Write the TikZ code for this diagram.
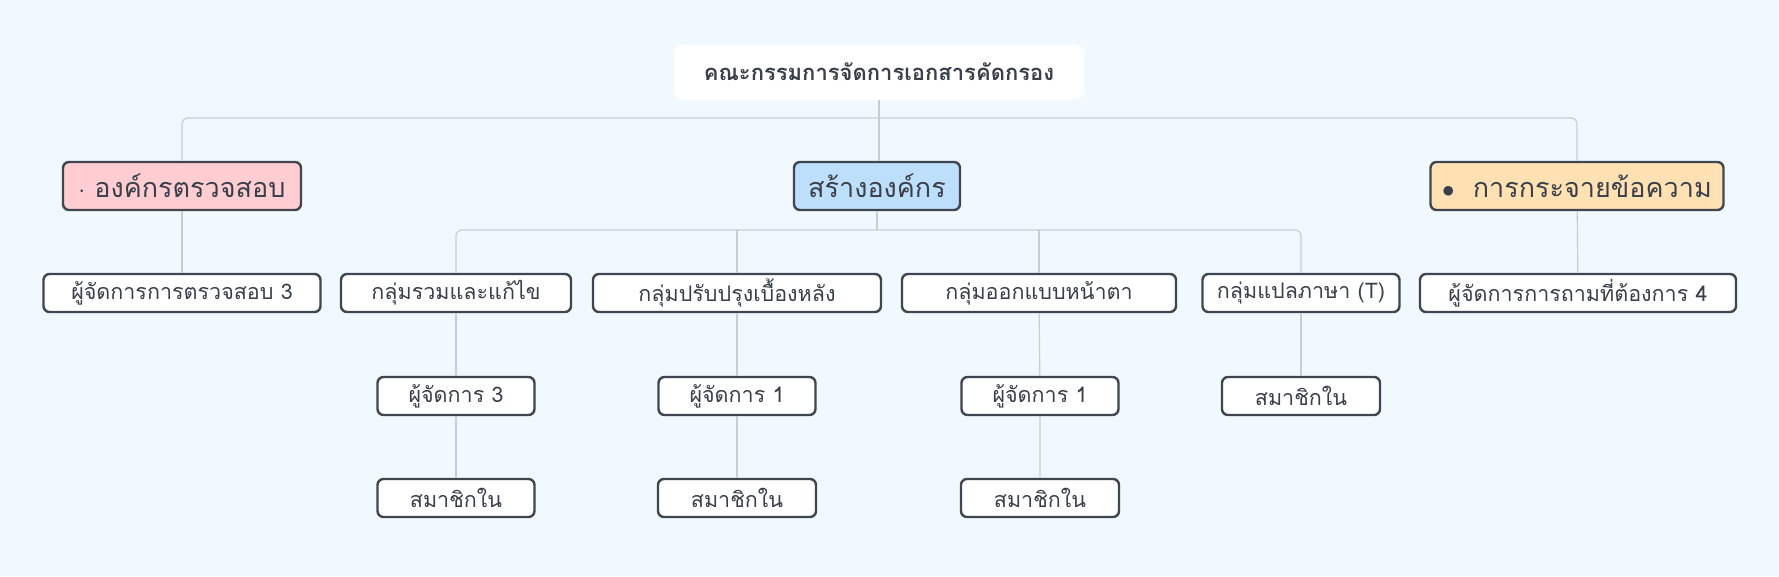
\documentclass[tikz,border=0pt]{standalone}
\usepackage{fontspec}
\setmainfont[Script=Thai]{Loma}
\usetikzlibrary{positioning}
\definecolor{bgblue}{HTML}{F1F8FE}
\definecolor{edge}{HTML}{3F4650}
\definecolor{ink}{HTML}{3A404A}
\definecolor{wire}{HTML}{C9CDD1}
\definecolor{pinkbox}{HTML}{FFCDD2}
\definecolor{bluebox}{HTML}{BDDFFB}
\definecolor{orangebox}{HTML}{FFE1B3}

\begin{document}
\begin{tikzpicture}[x=1pt, y=-1pt,
        box/.style={draw=edge, line width=2.4pt, rounded corners=6pt, fill=white, text=ink,
            font=\fontsize{21.5}{24}\selectfont, minimum height=38pt, inner sep=0pt},
        topic/.style={box, font=\fontsize{27}{30}\selectfont, minimum height=48pt},
        link/.style={draw=wire, line width=1.2pt, rounded corners=6pt}]
        % Fondo
        \fill[bgblue] (0,0) rectangle (1779,576);
        \useasboundingbox (0,0) rectangle (1779,576);

        % Nodo raiz
        \node[fill=white, rounded corners=9pt, minimum width=410pt, minimum height=55pt, text=ink,
            font=\fontsize{22}{25}\selectfont\bfseries] (root) at (879,72) {คณะกรรมการจัดการเอกสารคัดกรอง};

        % Temas principales
        \node[topic, fill=pinkbox, minimum width=238pt] (audit) at (182,186) {$\cdot$ องค์กรตรวจสอบ};
        \node[topic, fill=bluebox, minimum width=166pt] (build) at (877,186) {สร้างองค์กร};
        \node[topic, fill=orangebox, minimum width=293pt] (spread) at (1577,186) {$\bullet$\ \ การกระจายข้อความ};

        % Subtemas
        \node[box, minimum width=277pt] (auditmgr) at (182,293) {ผู้จัดการการตรวจสอบ 3};
        \node[box, minimum width=230pt] (merge) at (456,293) {กลุ่มรวมและแก้ไข};
        \node[box, minimum width=288pt] (backend) at (737,293) {กลุ่มปรับปรุงเบื้องหลัง};
        \node[box, minimum width=274pt] (design) at (1039,293) {กลุ่มออกแบบหน้าตา};
        \node[box, minimum width=197pt] (trans) at (1301,293) {กลุ่มแปลภาษา (T)};
        \node[box, minimum width=316pt] (spreadmgr) at (1578,293) {ผู้จัดการการถามที่ต้องการ 4};

        % Gerentes y miembros
        \node[box, minimum width=157pt] (mergemgr) at (456,396) {ผู้จัดการ 3};
        \node[box, minimum width=157pt] (backmgr) at (737,396) {ผู้จัดการ 1};
        \node[box, minimum width=157pt] (designmgr) at (1040,396) {ผู้จัดการ 1};
        \node[box, minimum width=158pt] (transmem) at (1301,396) {สมาชิกใน};
        \node[box, minimum width=157pt] (mergemem) at (456,498) {สมาชิกใน};
        \node[box, minimum width=158pt] (backmem) at (737,498) {สมาชิกใน};
        \node[box, minimum width=158pt] (designmem) at (1040,498) {สมาชิกใน};

        % Conexiones
        \coordinate (bus1) at (879,118);
        \coordinate (bus2) at (877,230);
        \draw[link] (audit.north) |- (bus1) -| (spread.north);
        \draw[link] (root.south) -- (root.south |- build.north);
        \draw[link] (merge.north) |- (bus2) -| (trans.north);
        \draw[link] (build.south) -- (bus2);
        \draw[link] (backend.north) -- (backend.north |- bus2);
        \draw[link] (design.north) -- (design.north |- bus2);
        \draw[link] (audit) -- (auditmgr);
        \draw[link] (spread) -- (spreadmgr);
        \draw[link] (merge) -- (mergemgr) -- (mergemem);
        \draw[link] (backend) -- (backmgr) -- (backmem);
        \draw[link] (design) -- (designmgr) -- (designmem);
        \draw[link] (trans) -- (transmem);
    \end{tikzpicture}
\end{document}
